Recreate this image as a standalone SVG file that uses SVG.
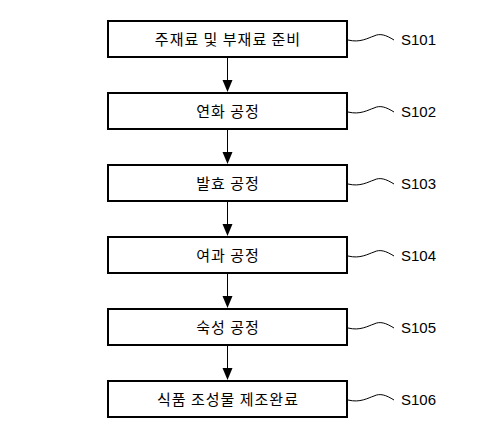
<svg xmlns="http://www.w3.org/2000/svg" width="480" height="432" viewBox="0 0 480 432">
<style>
.box{fill:#fff;stroke:#000;stroke-width:2}
.t{font-family:"Noto Sans CJK KR",sans-serif;font-size:15px;letter-spacing:1px;text-anchor:middle;fill:#000}
.lbl{font-family:"Liberation Sans",Arial,sans-serif;font-size:15px;fill:#000}
.sq{fill:none;stroke:#000;stroke-width:1}
.ln{stroke:#000;stroke-width:1}
</style>
<defs>
<path id="sq" class="sq" d="M348,0 C360,3 368,-2 374,-4 C380,-7 386,-5 394,0"/>
</defs>
<rect width="480" height="432" fill="#fff"/>
<g id="connectors">
<line class="ln" x1="227.5" y1="58" x2="227.5" y2="80"/><polygon points="222.5,80 232.5,80 227.5,92"/>
<line class="ln" x1="227.5" y1="130" x2="227.5" y2="152"/><polygon points="222.5,152 232.5,152 227.5,164"/>
<line class="ln" x1="227.5" y1="202" x2="227.5" y2="224"/><polygon points="222.5,224 232.5,224 227.5,236"/>
<line class="ln" x1="227.5" y1="274" x2="227.5" y2="296"/><polygon points="222.5,296 232.5,296 227.5,308"/>
<line class="ln" x1="227.5" y1="346" x2="227.5" y2="368"/><polygon points="222.5,368 232.5,368 227.5,380"/>
</g>
<g id="s101"><rect class="box" x="108" y="21" width="239" height="36"/><text class="t" x="228" y="45">주재료 및 부재료 준비</text><use href="#sq" y="40"/><text class="lbl" x="401" y="45">S101</text></g>
<g id="s102"><rect class="box" x="108" y="93" width="239" height="36"/><text class="t" x="228" y="117">연화 공정</text><use href="#sq" y="112"/><text class="lbl" x="401" y="117">S102</text></g>
<g id="s103"><rect class="box" x="108" y="165" width="239" height="36"/><text class="t" x="228" y="189">발효 공정</text><use href="#sq" y="184"/><text class="lbl" x="401" y="189">S103</text></g>
<g id="s104"><rect class="box" x="108" y="237" width="239" height="36"/><text class="t" x="228" y="261">여과 공정</text><use href="#sq" y="256"/><text class="lbl" x="401" y="261">S104</text></g>
<g id="s105"><rect class="box" x="108" y="309" width="239" height="36"/><text class="t" x="228" y="333">숙성 공정</text><use href="#sq" y="328"/><text class="lbl" x="401" y="333">S105</text></g>
<g id="s106"><rect class="box" x="108" y="381" width="239" height="36"/><text class="t" x="228" y="405">식품 조성물 제조완료</text><use href="#sq" y="400"/><text class="lbl" x="401" y="405">S106</text></g>
</svg>
